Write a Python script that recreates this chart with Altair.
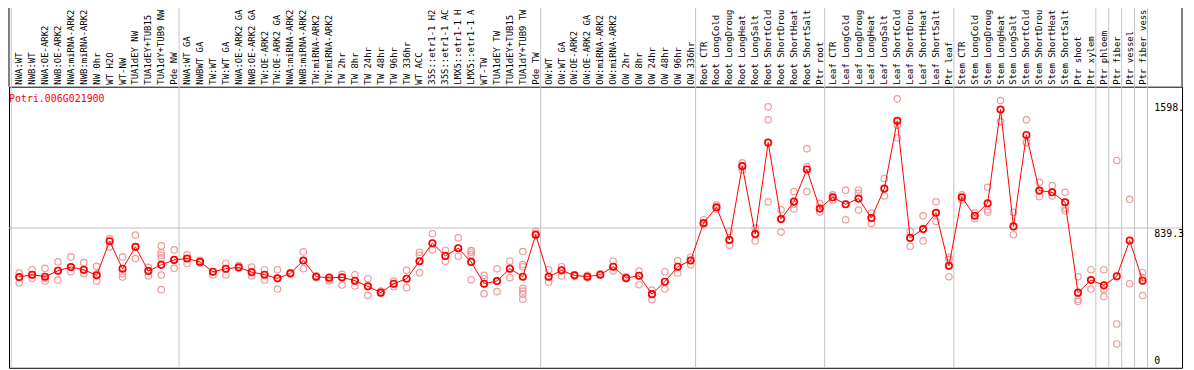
import altair as alt
import pandas as pd

gene_id = "Potri.006G021900"

labels = [
    "NWA:WT", "NWB:WT", "NWA:OE-ARK2", "NWB:OE-ARK2", "NWA:miRNA-ARK2", "NWB:miRNA-ARK2",
    "NW 0hr", "WT H2O", "WT-NW", "TUA1dEY NW", "TUA1dEY+TUB15", "TUA1dY+TUB9 NW", "Pde NW",
    "NWA:WT GA", "NWBWT GA", "TW:WT", "TW:WT GA", "NWA:OE-ARK2 GA", "NWB:OE-ARK2 GA",
    "TW:OE-ARK2", "TW:OE-ARK2 GA", "NWA:miRNA-ARK2", "NWB:miRNA-ARK2", "TW:miRNA-ARK2",
    "TW:miRNA-ARK2", "TW 2hr", "TW 8hr", "TW 24hr", "TW 48hr", "TW 96hr", "TW 336hr",
    "WT ACC", "35S::etr1-1 H2", "35S::etr1-1 AC", "LMX5::etr1-1 H", "LMX5::etr1-1 A",
    "WT-TW", "TUA1dEY TW", "TUA1dEY+TUB15", "TUA1dY+TUB9 TW", "Pde TW",
    "OW:WT", "OW:WT GA", "OW:OE-ARK2", "OW:OE-ARK2 GA", "OW:miRNA-ARK2", "OW:miRNA-ARK2",
    "OW 2hr", "OW 8hr", "OW 24hr", "OW 48hr", "OW 96hr", "OW 336hr",
    "Root CTR", "Root LongCold", "Root LongDroug", "Root LongHeat", "Root LongSalt",
    "Root ShortCold", "Root ShortDrou", "Root ShortHeat", "Root ShortSalt", "Ptr root",
    "Leaf CTR", "Leaf LongCold", "Leaf LongDroug", "Leaf LongHeat", "Leaf LongSalt",
    "Leaf ShortCold", "Leaf ShortDrou", "Leaf ShortHeat", "Leaf ShortSalt", "Ptr leaf",
    "Stem CTR", "Stem LongCold", "Stem LongDroug", "Stem LongHeat", "Stem LongSalt",
    "Stem ShortCold", "Stem ShortDrou", "Stem ShortHeat", "Stem ShortSalt",
    "Ptr shoot", "Ptr xylem", "Ptr phloem", "Ptr fiber", "Ptr vessel", "Ptr fiber vess",
]

means = [
    545, 559, 547, 583, 605, 589, 555, 760, 595, 726, 581, 618, 648,
    656, 636, 577, 595, 603, 575, 559, 537, 567, 644, 547, 541, 543, 523, 489, 451, 505, 535,
    640, 748, 672, 718, 636, 505, 521, 595, 547, 799,
    547, 585, 555, 547, 559, 607, 539, 553, 442, 517, 607, 644,
    869, 964, 768, 1211, 803, 1352, 893, 998, 1191, 956,
    1024, 982, 1016, 899, 1076, 1483, 780, 833, 931, 612,
    1024, 913, 988, 1551, 849, 1398, 1064, 1054, 994, 451, 527,
    495, 549, 764, 523,
]

replicates = [
    [569, 541, 511], [589, 557, 537], [597, 537, 521], [636, 583, 527], [666, 605, 577],
    [632, 587, 565], [609, 565, 521], [776, 760, 726], [666, 565, 545], [797, 726, 656],
    [603, 585, 551], [732, 690, 676, 660, 557, 469], [708, 648, 597],
    [678, 656, 626], [646, 630], [577, 557], [628, 595, 557], [614, 599], [605, 571, 551],
    [589, 559, 527], [589, 537, 473], [571, 563], [696, 644, 595], [553, 541],
    [545, 529, 521], [561, 541, 497], [559, 521, 491], [535, 489, 434], [461, 449],
    [521, 501, 487], [585, 535, 481], [694, 676, 640, 571], [805, 748, 708],
    [706, 672, 640], [780, 718, 670], [704, 694, 680, 529], [555, 535, 505, 445],
    [595, 521, 457], [640, 595, 541], [698, 620, 607, 477, 461, 442, 412], [819, 805, 795],
    [589, 547, 515], [607, 585, 551], [559, 551], [555, 541], [565, 557], [640, 607, 581],
    [547, 533], [581, 553, 499], [467, 442, 410], [577, 517, 473], [644, 607, 569],
    [664, 644, 618],
    [889, 869, 859], [978, 964, 954], [819, 768, 736], [1231, 1211, 1187], [839, 803, 762],
    [1567, 1489, 996], [949, 893, 815], [1058, 982, 954], [1316, 1207, 1058], [988, 956, 935],
    [1038, 1024, 1008], [1066, 982, 889], [1068, 1048, 1016, 947], [929, 899, 867],
    [1137, 1076, 1032], [1615, 1456, 1380], [819, 780, 730], [913, 833, 762],
    [996, 931, 879], [664, 650, 612, 547],
    [1038, 1008], [929, 895], [1084, 949, 935], [1605, 1551, 1479], [933, 849, 799],
    [1489, 1355, 1352], [1114, 1064, 1028], [1094, 1054, 1032], [1054, 958, 943],
    [547, 410, 398], [589, 527, 473],
    [589, 469, 428], [1245, 263, 143], [1012, 505], [571, 541, 434],
]

group_sizes = [13, 28, 12, 10, 10, 11, 1, 1, 1, 1]

axis_values = [1598, 839.3, 0]
axis_texts = ["1598.", "839.3", "0"]
grid_value = [839.3]

W, H = 1181, 283
FONT = "DejaVu Sans Mono"
REP_COLOR = "#ef9a9a"
MEAN_COLOR = "#ff0000"
GRID = "#c4c4c4"

idx = list(range(len(labels)))
df_mean = pd.DataFrame({"i": idx, "label": labels, "mean": means})
df_rep = pd.DataFrame([{"i": i, "v": v} for i, vs in enumerate(replicates) for v in vs])

bounds = [-0.62]
c = 0
for g in group_sizes:
    c += g
    bounds.append(c - 1 + 0.38)
df_sep = pd.DataFrame({"b": bounds})

xs = alt.Scale(domain=[-0.7923, 90.054], nice=False, zero=False)
ys = alt.Scale(domain=[0, 1688], nice=False, zero=False)

sep = alt.Chart(df_sep).mark_rule(color=GRID, strokeWidth=1).encode(
    x=alt.X("b:Q", scale=xs, axis=None), y=alt.value(-80), y2=alt.value(H)
)
grid = alt.Chart(pd.DataFrame({"v": grid_value})).mark_rule(color=GRID, strokeWidth=1).encode(
    y=alt.Y("v:Q", scale=ys, axis=None), x=alt.value(0), x2=alt.value(W)
)
left_edge = alt.Chart(pd.DataFrame({"a": [0]})).mark_rule(color="black", strokeWidth=1).encode(
    x=alt.value(0), y=alt.value(-80), y2=alt.value(0)
)
right_edge = alt.Chart(pd.DataFrame({"a": [0]})).mark_rule(color="black", strokeWidth=1).encode(
    x=alt.value(W), y=alt.value(-80), y2=alt.value(0)
)

reps = alt.Chart(df_rep).mark_point(
    shape="circle", filled=False, size=42, color=REP_COLOR, strokeWidth=1.2, opacity=1
).encode(x=alt.X("i:Q", scale=xs, axis=None), y=alt.Y("v:Q", scale=ys, axis=None))

line = alt.Chart(df_mean).mark_line(color=MEAN_COLOR, strokeWidth=1).encode(
    x=alt.X("i:Q", scale=xs, axis=None), y=alt.Y("mean:Q", scale=ys, axis=None)
)
mean_pts = alt.Chart(df_mean).mark_point(
    shape="circle", filled=False, size=42, color=MEAN_COLOR, strokeWidth=1.7, opacity=1
).encode(x=alt.X("i:Q", scale=xs, axis=None), y=alt.Y("mean:Q", scale=ys, axis=None))

cat_labels = alt.Chart(df_mean).mark_text(
    angle=270, align="left", baseline="middle", font=FONT, fontSize=9, color="black"
).encode(x=alt.X("i:Q", scale=xs, axis=None), y=alt.value(-2), text="label:N")

title = alt.Chart(pd.DataFrame({"t": [gene_id]})).mark_text(
    align="left", baseline="alphabetic", font=FONT, fontSize=10, color="#ff0000"
).encode(x=alt.value(0), y=alt.value(15), text="t:N")

df_ax = pd.DataFrame({"v": axis_values, "t": axis_texts})
ax_top = alt.Chart(df_ax).transform_filter("datum.v > 0").mark_text(
    align="left", baseline="top", dy=1, font=FONT, fontSize=10, color="black"
).encode(x=alt.value(1153), y=alt.Y("v:Q", scale=ys, axis=None), text="t:N")
ax_bot = alt.Chart(df_ax).transform_filter("datum.v == 0").mark_text(
    align="left", baseline="alphabetic", dy=-4, font=FONT, fontSize=10, color="black"
).encode(x=alt.value(1153), y=alt.Y("v:Q", scale=ys, axis=None), text="t:N")

chart = alt.layer(
    sep, grid, left_edge, right_edge, reps, line, mean_pts, cat_labels, title, ax_top, ax_bot
).properties(
    width=W, height=H,
    padding={"left": 1, "top": 78, "right": 4, "bottom": 1},
    autosize=alt.AutoSizeParams(type="none"),
).configure_view(stroke="black", strokeWidth=1)

chart.save("out.html", embed_options={"renderer": "svg", "actions": False})
